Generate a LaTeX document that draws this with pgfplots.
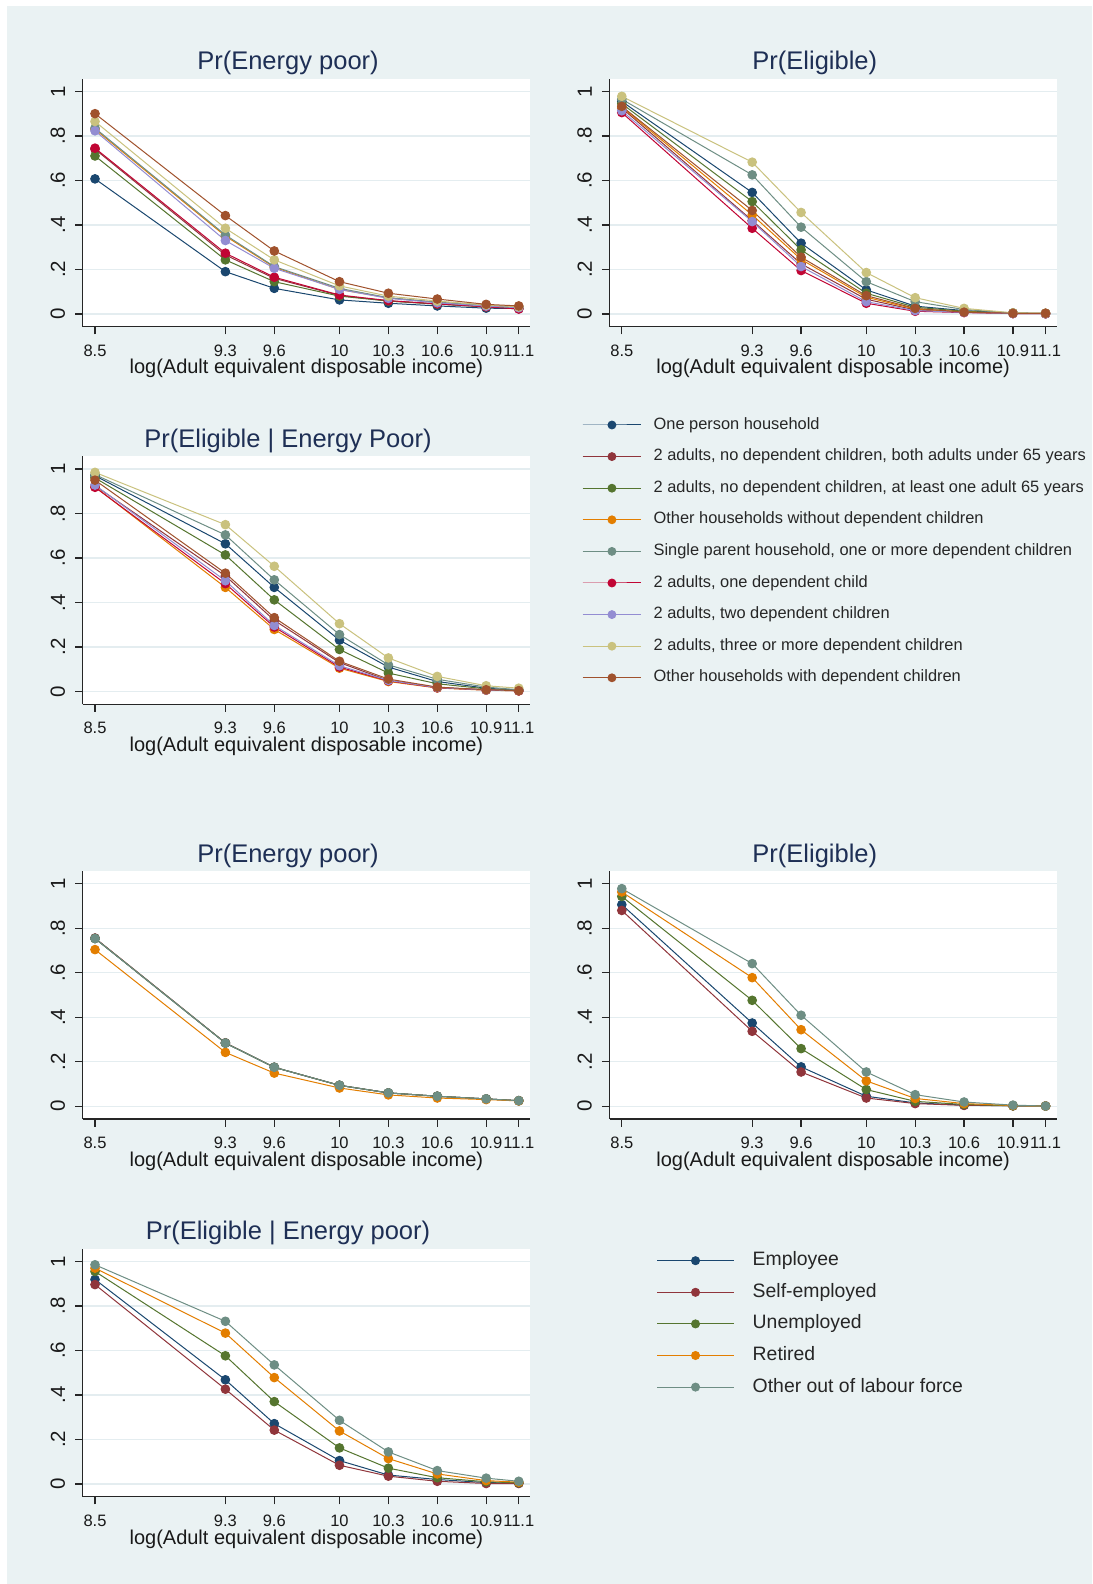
\documentclass[border=0pt]{standalone}
\usepackage{fontspec}
\setmainfont{Liberation Sans}
\usepackage{pgfplots}
\usepackage{pgfplotstable}
\pgfplotsset{compat=1.18}
\definecolor{bg}{HTML}{EAF2F3}
\definecolor{gridc}{HTML}{E4EDF0}
\definecolor{ttl}{HTML}{1E2F55}
\definecolor{c1}{HTML}{1A476F}
\definecolor{c2}{HTML}{90353B}
\definecolor{c3}{HTML}{55752F}
\definecolor{c4}{HTML}{E37E00}
\definecolor{c5}{HTML}{6E8E84}
\definecolor{c6}{HTML}{C10534}
\definecolor{c7}{HTML}{938DD2}
\definecolor{c8}{HTML}{CAC27E}
\definecolor{c9}{HTML}{A0522D}

\pgfplotstableread{
x a b c d e f g h i
8.5 .607 .740 .710 .830 .835 .745 .823 .865 .900
9.3 .190 .265 .243 .350 .355 .273 .330 .385 .442
9.6 .115 .160 .145 .210 .213 .165 .205 .243 .283
10 .063 .083 .080 .110 .115 .085 .110 .126 .145
10.3 .048 .058 .058 .072 .073 .060 .070 .080 .093
10.6 .036 .045 .044 .052 .053 .045 .050 .058 .067
10.9 .026 .033 .032 .037 .038 .032 .035 .040 .043
11.1 .024 .028 .027 .030 .031 .022 .028 .032 .036
}\tA
\pgfplotstableread{
x a b c d e f g h i
8.5 .955 .925 .945 .930 .965 .905 .913 .978 .933
9.3 .546 .420 .505 .445 .625 .385 .415 .682 .465
9.6 .318 .225 .288 .245 .390 .195 .213 .456 .255
10 .108 .066 .093 .075 .145 .048 .055 .186 .082
10.3 .035 .018 .030 .022 .055 .012 .015 .073 .025
10.6 .015 .008 .012 .009 .020 .006 .007 .025 .008
10.9 .004 .002 .003 .003 .004 .002 .002 .005 .003
11.1 .002 .001 .002 .002 .002 .001 .001 .003 .003
}\tB
\pgfplotstableread{
x a b c d e f g h i
8.5 .970 .925 .960 .920 .975 .918 .928 .985 .950
9.3 .664 .520 .614 .468 .704 .485 .498 .750 .532
9.6 .468 .320 .412 .279 .502 .290 .297 .563 .332
10 .231 .130 .189 .105 .256 .110 .116 .305 .136
10.3 .110 .050 .083 .045 .120 .048 .050 .151 .056
10.6 .045 .018 .035 .016 .055 .017 .018 .068 .020
10.9 .015 .008 .012 .006 .020 .007 .007 .026 .008
11.1 .006 .004 .005 .003 .008 .003 .004 .015 .004
}\tC
\pgfplotstableread{
x a b c d e
8.5 .754 .756 .754 .704 .754
9.3 .284 .285 .284 .242 .284
9.6 .175 .175 .175 .149 .175
10 .094 .094 .094 .082 .094
10.3 .060 .060 .060 .051 .060
10.6 .045 .045 .045 .037 .045
10.9 .033 .033 .033 .030 .033
11.1 .025 .025 .025 .024 .025
}\tD
\pgfplotstableread{
x a b c d e
8.5 .906 .880 .943 .963 .978
9.3 .374 .337 .476 .578 .641
9.6 .177 .154 .259 .344 .409
10 .045 .037 .075 .114 .154
10.3 .015 .012 .022 .035 .052
10.6 .005 .004 .008 .012 .019
10.9 .002 .002 .002 .003 .005
11.1 .001 .001 .001 .001 .001
}\tE
\pgfplotstableread{
x a b c d e
8.5 .919 .896 .955 .970 .985
9.3 .468 .426 .576 .678 .731
9.6 .271 .242 .370 .478 .535
10 .105 .084 .162 .238 .286
10.3 .040 .035 .071 .114 .144
10.6 .020 .012 .028 .045 .060
10.9 .006 .002 .010 .015 .026
11.1 .004 .002 .005 .008 .012
}\tF

\pgfplotsset{
  panel/.style={
    scale only axis, width=447.3pt, height=248pt,
    xmin=8.4245, xmax=11.169, ymin=-0.0573, ymax=1.0573,
    axis lines*=left,
    axis line style={line width=1.2pt, color=black!85},
    axis background/.style={fill=white},
    xtick={8.5,9.3,9.6,10,10.3,10.6,10.9,11.1},
    xticklabels={8.5,9.3,9.6,10,10.3,10.6,10.9,11.1},
    ytick={0,0.2,0.4,0.6,0.8,1},
    yticklabels={0,.2,.4,.6,.8,1},
    tick align=outside, major tick length=7.6pt,
    tick style={line width=1.2pt, color=black!85},
    ymajorgrids, grid style={gridc, line width=1.3pt},
    xticklabel style={font=\fontsize{16.5}{19}\selectfont, text=black!90, inner xsep=0pt, inner ysep=10.2pt},
    yticklabel style={font=\fontsize{20.5}{24}\selectfont, text=black!90, rotate=90, anchor=south, inner xsep=0pt, inner ysep=9.8pt},
    xlabel={log(Adult equivalent disposable income)},
    xlabel style={font=\fontsize{20}{24}\selectfont, text=black!90, at={(axis description cs:0.5,0)}, anchor=base, yshift=-47.3pt},
    title style={font=\fontsize{25.5}{30}\selectfont, text=ttl, at={(axis description cs:0.459,1)}, anchor=base, yshift=2.7pt},
    every axis plot/.append style={line width=1pt, mark=*, mark size=4.3pt},
  },
}

\begin{document}
\begin{tikzpicture}
\fill[white] (0pt,0pt) rectangle (1092pt,1584pt);
\fill[bg] (7.3pt,0pt) rectangle (1092pt,1578pt);

% Panel 1
\begin{axis}[panel, at={(82.7pt,1257.3pt)}, anchor=south west, title={Pr(Energy poor)}]
\addplot[c1] table[x=x,y=a]{\tA};
\addplot[c2] table[x=x,y=b]{\tA};
\addplot[c3] table[x=x,y=c]{\tA};
\addplot[c4] table[x=x,y=d]{\tA};
\addplot[c5] table[x=x,y=e]{\tA};
\addplot[c6] table[x=x,y=f]{\tA};
\addplot[c7] table[x=x,y=g]{\tA};
\addplot[c8] table[x=x,y=h]{\tA};
\addplot[c9] table[x=x,y=i]{\tA};
\end{axis}

% Panel 2
\begin{axis}[panel, at={(609.5pt,1257.3pt)}, anchor=south west, title={Pr(Eligible)}]
\addplot[c1] table[x=x,y=a]{\tB};
\addplot[c2] table[x=x,y=b]{\tB};
\addplot[c3] table[x=x,y=c]{\tB};
\addplot[c4] table[x=x,y=d]{\tB};
\addplot[c5] table[x=x,y=e]{\tB};
\addplot[c6] table[x=x,y=f]{\tB};
\addplot[c7] table[x=x,y=g]{\tB};
\addplot[c8] table[x=x,y=h]{\tB};
\addplot[c9] table[x=x,y=i]{\tB};
\end{axis}

% Panel 3 with legend 1
\begin{axis}[panel, at={(82.7pt,879.7pt)}, anchor=south west, title={Pr(Eligible | Energy Poor)},
  legend cell align=left,
  legend image code/.code={\draw[mark repeat=2,mark phase=2,mark size=3.9pt] plot coordinates {(0pt,0pt)(29.4pt,0pt)(58.8pt,0pt)};},
  legend style={draw=none, fill=none, inner sep=0pt, outer sep=0pt,
    at={(axis description cs:1.1163,1.1899)}, anchor=north west,
    font=\fontsize{16.4}{19.5}\selectfont, text=black!85,
    nodes={inner sep=0pt, text height=20pt, text depth=11.6pt},
    row sep=0pt, /tikz/every odd column/.append style={column sep=11.8pt}}]
\addplot[c1] table[x=x,y=a]{\tC};
\addplot[c2] table[x=x,y=b]{\tC};
\addplot[c3] table[x=x,y=c]{\tC};
\addplot[c4] table[x=x,y=d]{\tC};
\addplot[c5] table[x=x,y=e]{\tC};
\addplot[c6] table[x=x,y=f]{\tC};
\addplot[c7] table[x=x,y=g]{\tC};
\addplot[c8] table[x=x,y=h]{\tC};
\addplot[c9] table[x=x,y=i]{\tC};
\legend{One person household,
  {2 adults, no dependent children, both adults under 65 years},
  {2 adults, no dependent children, at least one adult 65 years},
  Other households without dependent children,
  {Single parent household, one or more dependent children},
  {2 adults, one dependent child},
  {2 adults, two dependent children},
  {2 adults, three or more dependent children},
  Other households with dependent children}
\end{axis}

% Panel 4
\begin{axis}[panel, at={(82.7pt,465pt)}, anchor=south west, title={Pr(Energy poor)}]
\addplot[c1] table[x=x,y=a]{\tD};
\addplot[c2] table[x=x,y=b]{\tD};
\addplot[c3] table[x=x,y=c]{\tD};
\addplot[c4] table[x=x,y=d]{\tD};
\addplot[c5] table[x=x,y=e]{\tD};
\end{axis}

% Panel 5
\begin{axis}[panel, at={(609.5pt,465pt)}, anchor=south west, title={Pr(Eligible)}]
\addplot[c1] table[x=x,y=a]{\tE};
\addplot[c2] table[x=x,y=b]{\tE};
\addplot[c3] table[x=x,y=c]{\tE};
\addplot[c4] table[x=x,y=d]{\tE};
\addplot[c5] table[x=x,y=e]{\tE};
\end{axis}

% Panel 6 with legend 2
\begin{axis}[panel, at={(82.7pt,87.3pt)}, anchor=south west, title={Pr(Eligible | Energy poor)},
  legend cell align=left,
  legend image code/.code={\draw[mark repeat=2,mark phase=2,mark size=4pt] plot coordinates {(0pt,0pt)(38.3pt,0pt)(76.6pt,0pt)};},
  legend style={draw=none, fill=none, inner sep=0pt, outer sep=0pt,
    at={(axis description cs:1.2833,1.0153)}, anchor=north west,
    font=\fontsize{19.4}{23}\selectfont, text=black!85,
    nodes={inner sep=0pt, text height=20.8pt, text depth=10.8pt},
    row sep=0pt, /tikz/every odd column/.append style={column sep=18.4pt}}]
\addplot[c1] table[x=x,y=a]{\tF};
\addplot[c2] table[x=x,y=b]{\tF};
\addplot[c3] table[x=x,y=c]{\tF};
\addplot[c4] table[x=x,y=d]{\tF};
\addplot[c5] table[x=x,y=e]{\tF};
\legend{Employee, Self-employed, Unemployed, Retired, Other out of labour force}
\end{axis}

\pgfresetboundingbox
\path[use as bounding box] (0pt,0pt) rectangle (1092pt,1584pt);
\end{tikzpicture}
\end{document}
